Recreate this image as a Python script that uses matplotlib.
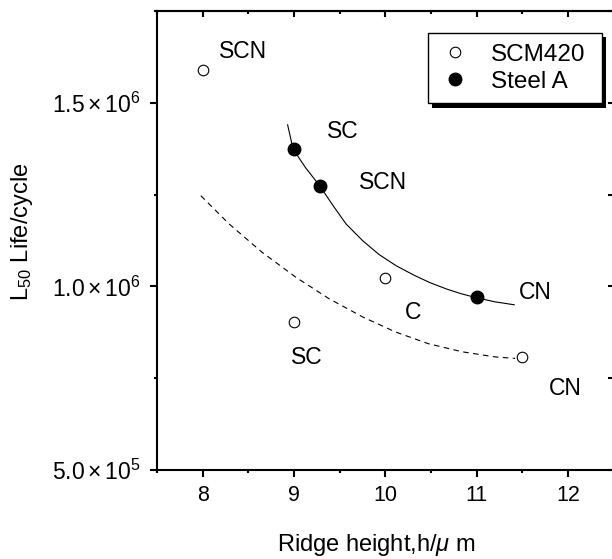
import numpy as np
import matplotlib
matplotlib.use('Agg')
import matplotlib.pyplot as plt
from matplotlib.patches import Rectangle
from matplotlib.transforms import IdentityTransform
from matplotlib.ticker import MultipleLocator

plt.rcParams['font.family'] = ['Liberation Sans', 'DejaVu Sans']
plt.rcParams['mathtext.fontset'] = 'custom'
plt.rcParams['mathtext.rm'] = 'Liberation Sans'
plt.rcParams['mathtext.it'] = 'Liberation Sans:italic'
plt.rcParams['mathtext.bf'] = 'Liberation Sans:bold'

# ridge height (um) vs L50 life (cycles)
scm_x = [8, 9, 10, 11.5]
scm_y = [1.59e6, 9.03e5, 1.024e6, 8.08e5]
steel_x = [9, 9.28, 11]
steel_y = [1.374e6, 1.2745e6, 9.71e5]

# trend curves
steel_fit_x = [8.93, 8.99, 9.13, 9.28, 9.43, 9.57, 9.75, 9.93, 10.12, 10.31,
               10.49, 10.68, 10.83, 11.0, 11.2, 11.41]
steel_fit_y = [1.440e6, 1.374e6, 1.322e6, 1.2745e6, 1.219e6, 1.170e6, 1.125e6, 1.087e6,
               1.056e6, 1.031e6, 1.010e6, 9.92e5, 9.80e5, 9.69e5, 9.58e5, 9.50e5]
scm_fit_x = [7.98, 8.29, 8.65, 9.02, 9.38, 9.75, 10.11, 10.47, 10.84, 11.2, 11.42]
scm_fit_y = [1.247e6, 1.170e6, 1.093e6, 1.025e6, 9.67e5, 9.17e5, 8.76e5, 8.44e5, 8.22e5, 8.08e5, 8.04e5]

# surface treatment labels
treat_names = ['SCN', 'SC', 'SCN', 'C', 'CN', 'CN', 'SC']
treat_x = [8.44, 9.53, 9.97, 10.30, 11.64, 11.97, 9.14]
treat_y = [1.622e6, 1.405e6, 1.264e6, 9.12e5, 9.67e5, 7.04e5, 7.90e5]

xticks = [8, 9, 10, 11, 12]
yticks = [5e5, 1e6, 1.5e6]
ytick_labels = [r'$\mathregular{5.0\times10^5}$', r'$\mathregular{1.0\times10^6}$',
                r'$\mathregular{1.5\times10^6}$']

fig = plt.figure(figsize=(6.12, 5.59), dpi=100)
ax = fig.add_axes([0.2565, 0.1592, 0.7464, 0.8211])

ax.plot(steel_fit_x, steel_fit_y, color='black', lw=0.8, zorder=2)
ax.plot(scm_fit_x, scm_fit_y, color='black', lw=0.8, ls=(0, (5, 4)), zorder=2)
ax.plot(scm_x, scm_y, 'o', ls='none', mfc='white', mec='black', mew=0.8, ms=7.6,
        label='SCM420', zorder=3)
ax.plot(steel_x, steel_y, 'o', ls='none', mfc='black', mec='black', ms=9,
        label='Steel A', zorder=3)

for name, tx, ty in zip(treat_names, treat_x, treat_y):
    ax.text(tx, ty, name, ha='center', va='baseline', fontsize=16.5)

ax.set_xlim(7.5, 12.5)
ax.set_ylim(5e5, 1.75e6)
ax.set_xticks(xticks)
ax.set_xticklabels([str(v) for v in xticks])
ax.set_yticks(yticks)
ax.set_yticklabels(ytick_labels)
ax.xaxis.set_minor_locator(MultipleLocator(0.5))
ax.yaxis.set_minor_locator(MultipleLocator(2.5e5))

for s in ax.spines.values():
    s.set_linewidth(1.5)
ax.tick_params(which='major', direction='out', length=5, width=1.5, pad=6)
ax.tick_params(which='minor', direction='out', length=2.5, width=1.5)
ax.tick_params(axis='x', labelsize=15.5)
ax.tick_params(axis='y', labelsize=16.5, pad=7)

# inward ticks on top and right
top = ax.secondary_xaxis('top')
top.set_xticks(xticks)
top.xaxis.set_minor_locator(MultipleLocator(0.5))
top.tick_params(which='major', direction='in', length=4.5, width=1.5, labeltop=False)
top.tick_params(which='minor', direction='in', length=2.5, width=1.5)
top.spines['top'].set_linewidth(1.5)
right = ax.secondary_yaxis('right')
right.set_yticks(yticks)
right.yaxis.set_minor_locator(MultipleLocator(2.5e5))
right.tick_params(which='major', direction='in', length=4.5, width=1.5, labelright=False)
right.tick_params(which='minor', direction='in', length=4, width=1.5)

ax.set_xlabel(r'Ridge height,h/$\mu$ m', fontsize=17)
ax.xaxis.set_label_coords(0.479, -0.136)
ax.set_ylabel(r'L$_{50}$ Life/cycle', fontsize=17)
ax.yaxis.set_label_coords(-0.268, 0.52)

leg = ax.legend(loc='upper left', bbox_to_anchor=(0.5927, 0.5, 0.381, 0.4527),
                mode='expand', borderaxespad=0, fontsize=17.5, fancybox=False,
                framealpha=1, edgecolor='black', handlelength=1.33, handletextpad=0.81,
                borderpad=0.45, labelspacing=0.2)
leg.get_frame().set_linewidth(1.0)
leg.set_zorder(5)

# black drop shadow behind the legend box
fig.canvas.draw()
bb = leg.get_frame().get_window_extent()
ax.add_patch(Rectangle((bb.x0 + 4.5, bb.y0 - 4.5), bb.width, bb.height,
                       transform=IdentityTransform(), facecolor='black',
                       edgecolor='none', zorder=4.9, clip_on=False))

fig.savefig('out.png', dpi=100)
